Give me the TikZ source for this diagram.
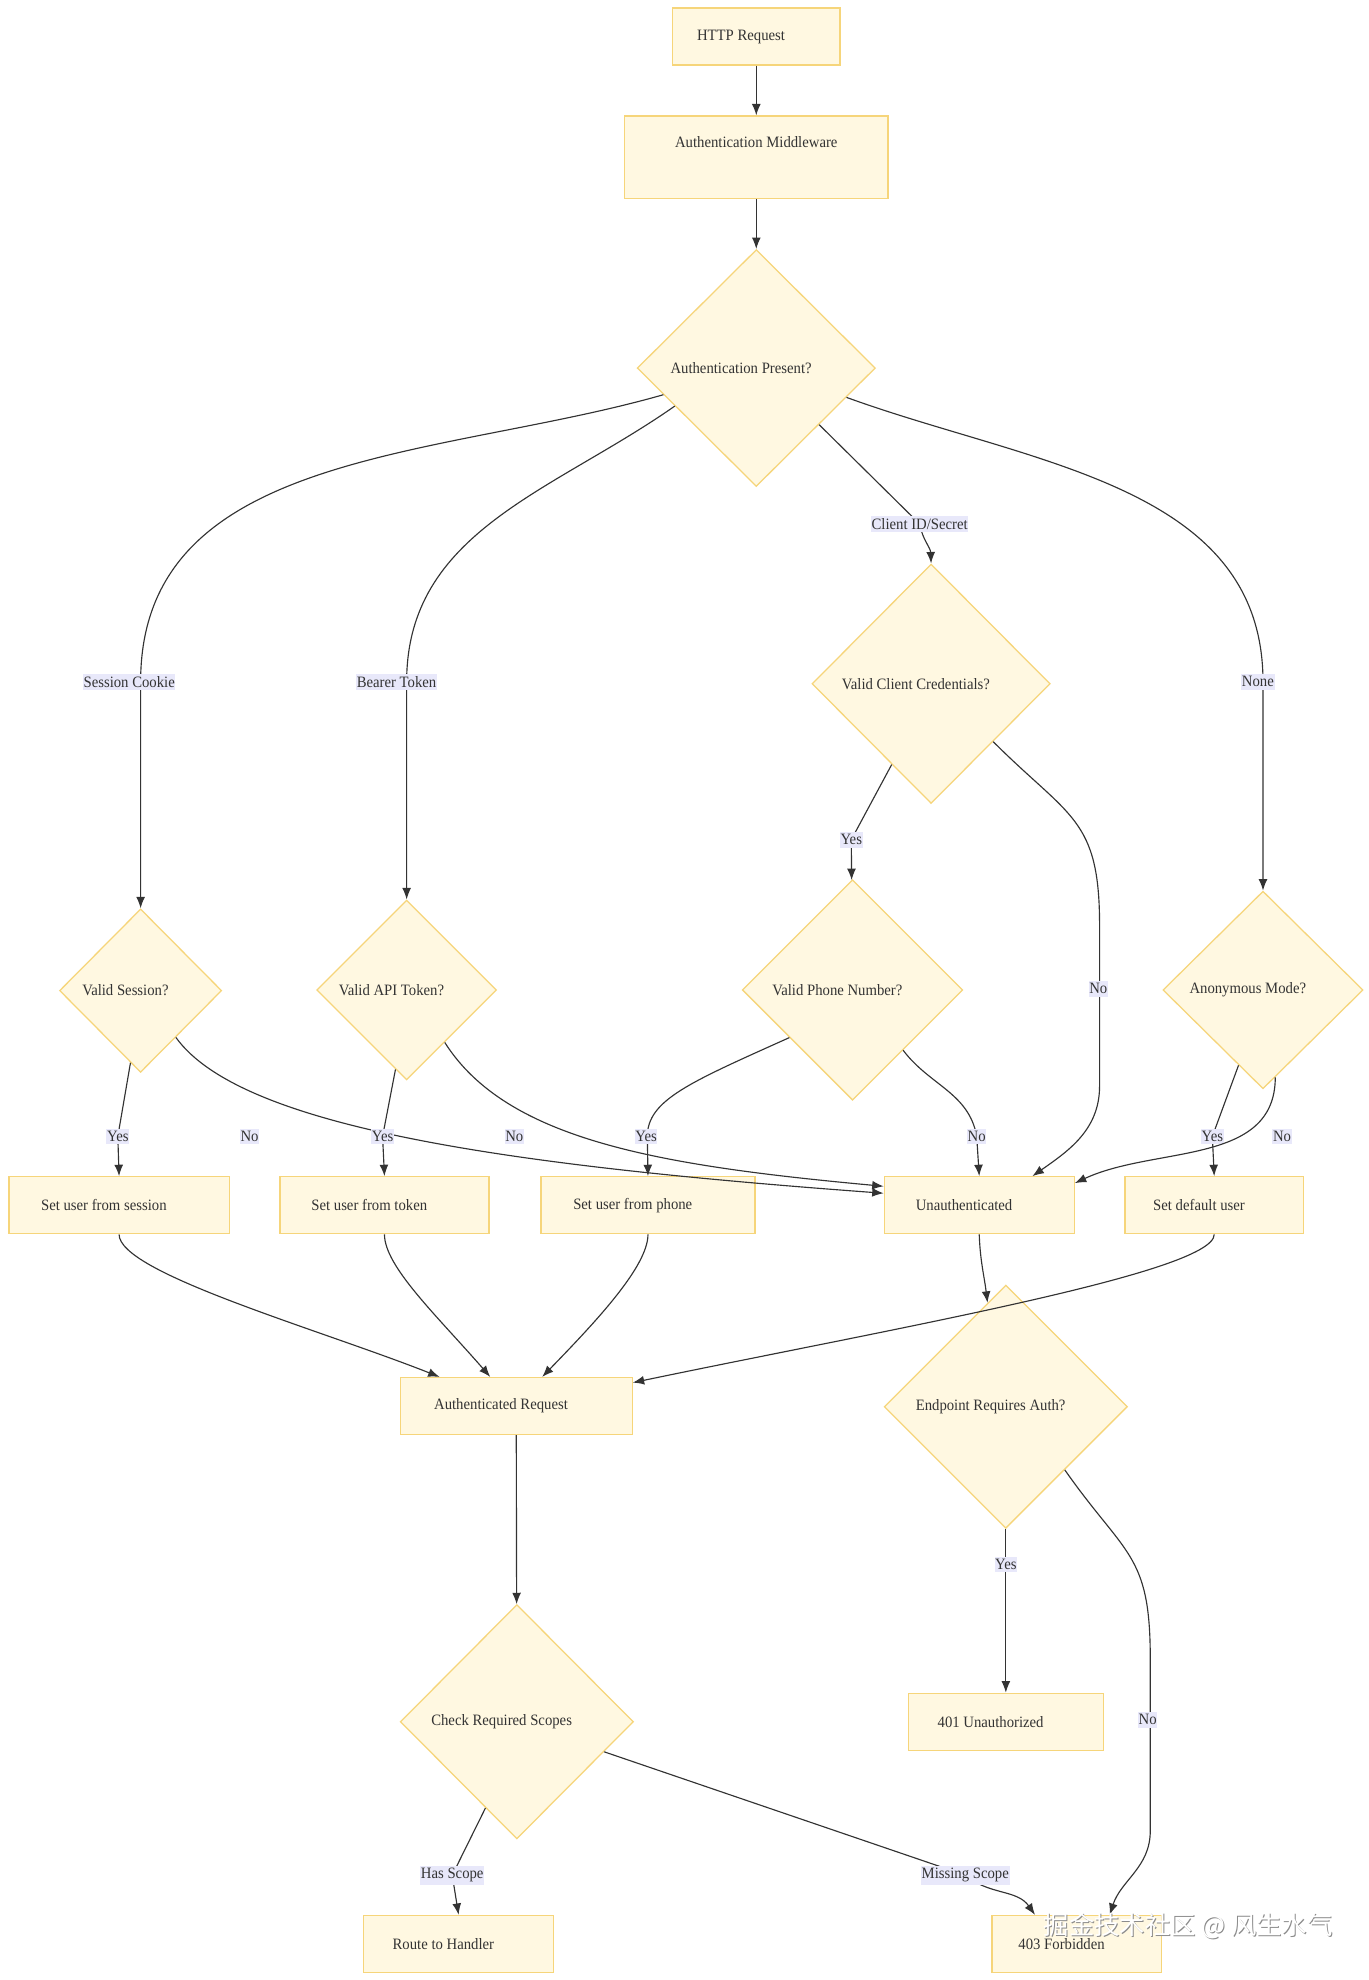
\documentclass[tikz,border=0pt]{standalone}
\usepackage{fontspec}
\setmainfont{Liberation Serif}[FakeStretch=0.93]
\newfontfamily\cjkfont{Noto Sans CJK SC}
\usepackage{xcolor}
\usetikzlibrary{shapes.geometric,arrows.meta}

\definecolor{nodefill}{HTML}{FFF8E1}
\definecolor{nodeline}{HTML}{F6D57A}
\definecolor{lblfill}{HTML}{E8E8FA}
\definecolor{ink}{HTML}{333333}

\tikzset{
  flow/.style={draw=nodeline, fill=nodefill, line width=1pt, text=ink,
    font=\fontsize{12.5}{14}\selectfont, inner sep=2pt},
  leftish/.style={execute at end node={\hspace{24pt}}},
  box/.style={flow, leftish, rectangle, minimum height=45pt},
  dia/.style={flow, leftish, diamond, aspect=1},
  lbl/.style={fill=lblfill, text=ink, font=\fontsize{12.5}{14}\selectfont,
    inner xsep=0.5pt, inner ysep=2pt},
  arr/.style={draw=ink, line width=0.9pt, -{Latex[length=9pt,width=7pt]}},
}

\begin{document}
\begin{tikzpicture}[x=1pt,y=1pt]
  \path[use as bounding box, fill=white] (0,0) rectangle (1080,1563);

  \begin{scope}[yshift=5pt, y=0.9968pt]
  % nodes
  \node[box, minimum width=132pt] (http) at (597,1534) {HTTP Request};
  \node[flow, rectangle, minimum width=208pt, minimum height=65pt, text height=9pt,
    text depth=25pt] (mw) at (597,1438.5) {Authentication Middleware};
  \node[dia, minimum width=188pt, minimum height=187pt] (present) at (597,1271.5) {Authentication Present?};
  \node[dia, minimum width=188pt, minimum height=189pt] (client) at (735,1021.5) {Valid Client Credentials?};
  \node[dia, minimum width=128pt, minimum height=129pt] (vsess) at (111,778.5) {Valid Session?};
  \node[dia, minimum width=142pt, minimum height=142pt] (vapi) at (321,779) {Valid API Token?};
  \node[dia, minimum width=174pt, minimum height=174pt] (vphone) at (673,779) {Valid Phone Number?};
  \node[dia, minimum width=158pt, minimum height=156pt] (anon) at (997,779) {Anonymous Mode?};

  \node[box, minimum width=174pt] (ssess) at (94,608.5) {Set user from session};
  \node[box, minimum width=165pt] (stok) at (303.5,608.5) {Set user from token};
  \node[box, minimum width=169pt] (sphone) at (511.5,608.5) {Set user from phone};
  \node[box, minimum width=150pt] (unauth) at (773,608.5) {Unauthenticated};
  \node[box, minimum width=141pt] (sdef) at (958.5,608.5) {Set default user};

  \node[box, minimum width=183pt] (authreq) at (407.5,449.5) {Authenticated Request};
  \node[dia, minimum width=192pt, minimum height=192pt] (endp) at (794,449) {Endpoint Requires Auth?};
  \node[dia, minimum width=184pt, minimum height=185pt] (scopes) at (408,199.5) {Check Required Scopes};
  \node[box, minimum width=154pt] (e401) at (794,199.5) {401 Unauthorized};
  \node[box, minimum width=150pt] (route) at (362,23.5) {Route to Handler};
  \node[box, minimum width=134pt] (e403) at (850,23.5) {403 Forbidden};

  % connectors
  \draw[arr] (http) -- (mw);
  \draw[arr] (mw) -- (present);
  \draw[arr] (present.196) to[out=196,in=90] (111,1023) node[lbl,xshift=-9pt] {Session Cookie} -- (vsess);
  \draw[arr] (present.205) to[out=215,in=90] (321,1023) node[lbl,xshift=-8pt] {Bearer Token} -- (vapi);
  \draw[arr] (present.-42) -- (726,1148) node[lbl] {Client ID/Secret} to[out=-80,in=92] (client.north);
  \draw[arr] (present.-18) to[out=-20,in=90] (997,1023) node[lbl,xshift=-4pt] {None} -- (anon);

  \draw[arr] (client.-116) -- (672,898) node[lbl] {Yes} -- (vphone);
  \draw[arr] (client.-43) to[out=-45,in=90,looseness=1.3] (868,830) -- (868,780) node[lbl,xshift=-1pt] {No}
    -- (868,703) to[out=-90,in=35] ([xshift=42pt]unauth.north);

  \draw[arr] (vsess.-98) -- (93,663) node[lbl] {Yes} -- (ssess.north);
  \draw[arr] (vsess.-53) .. controls (190,670) and (400,640) .. ([yshift=9.5pt]unauth.west);
  \draw[arr] (vapi.-98) -- (302,663) node[lbl] {Yes} -- (stok.north);
  \draw[arr] (vapi.-54) .. controls (400,660) and (520,640) .. ([yshift=15pt]unauth.west);
  \draw[arr] (vphone.217) .. controls (545,706) and (511,692) .. (511,663) node[lbl,xshift=-1pt] {Yes} -- (sphone.north);
  \draw[arr] (vphone.-50) to[out=-53,in=100] (771,663) node[lbl] {No} -- (unauth.north);
  \draw[arr] (anon.-108) -- (957,663) node[lbl] {Yes} -- (sdef.north);
  \draw[arr] (anon.-82) to[out=-90,in=25] ([yshift=17.5pt]unauth.east);

  \draw[arr] (ssess.south) .. controls (94,555) and (250,511) .. ([xshift=-60.5pt]authreq.north);
  \draw[arr] (stok.south) .. controls (303.5,560) and (345,521) .. ([xshift=-20.5pt]authreq.north);
  \draw[arr] (sphone.south) .. controls (511.5,560) and (470,516) .. ([xshift=20.5pt]authreq.north);
  \draw[arr] (sdef.south) .. controls (958.5,555) and (700,510) .. ([yshift=18.5pt]authreq.east);
  \draw[arr] (unauth.south) to[out=-88,in=97] (endp.100);

  \draw[arr] (authreq) -- (scopes);
  \draw[arr] (endp) -- (794,324) node[lbl] {Yes} -- (e401);
  \draw[arr] (endp.-47) to[out=-55,in=90,looseness=1.3] (908,250) -- (908,201) node[lbl,xshift=-2pt] {No}
    -- (908,113) to[out=-90,in=72] ([xshift=26pt]e403.north);
  \draw[arr] (scopes.-110) -- (357,78) node[lbl] {Has Scope} -- (route.north);
  \draw[arr] (scopes.-19) -- (762,78) node[lbl] {Missing Scope}
    to[out=-40,in=125] ([xshift=-33pt]e403.north);

  % labels that sit beside their connectors
  \node[lbl] (lnosess) at (197,663) {No};
  \node[lbl] (lnoapi) at (406,663) {No};
  \node[lbl] (lnoanon) at (1012,663) {No};

  % watermark
  \node[font=\cjkfont\fontsize{20}{22}\selectfont, text=black!45] (wmshade) at (938.8,37.2) {掘金技术社区 @ 风生水气};
  \node[font=\cjkfont\fontsize{20}{22}\selectfont, text=white] (wm) at (938,38) {掘金技术社区 @ 风生水气};
  \end{scope}
\end{tikzpicture}
\end{document}
